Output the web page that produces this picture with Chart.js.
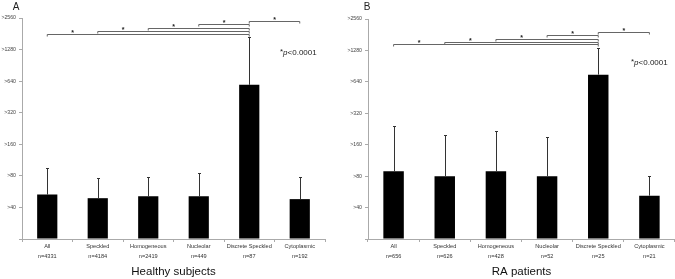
<!DOCTYPE html>
<html>
<head>
<meta charset="utf-8">
<script src="https://cdn.jsdelivr.net/npm/chart.js@4/dist/chart.umd.min.js"></script>
<style>
  html, body { margin: 0; padding: 0; background: #fff; }
  #wrap { position: relative; width: 675px; height: 279px; }
  .panel { position: absolute; top: 0; height: 279px; }
</style>
</head>
<body>
<div id="wrap">
  <div class="panel" style="left:0;width:335px"><canvas id="chartA"></canvas></div>
  <div class="panel" style="left:335px;width:340px"><canvas id="chartB"></canvas></div>
</div>
<script>
// titers
const categories = ['All', 'Speckled', 'Homogeneous', 'Nucleolar', 'Discrete Speckled', 'Cytoplasmic']
const healthyN = ['n=4331', 'n=4184', 'n=2419', 'n=449', 'n=87', 'n=192']
const raN = ['n=656', 'n=626', 'n=428', 'n=52', 'n=25', 'n=21']

const healthyMeans = [53, 49, 51, 51, 590, 48]
const healthyUpper = [95, 76, 78, 86, 1670, 78]
const raMeans = [89, 80, 89, 80, 750, 52]
const raUpper = [240, 200, 215, 190, 1350, 80]

// significance brackets: each group vs Discrete Speckled (index 4), height as titer
const bracketFrom = [0, 1, 2, 3, 5]
const bracketTo = 4
const healthyBracketTiter = [1800, 1930, 2050, 2250, 2410]
const raBracketTiter = [1460, 1540, 1650, 1810, 1940]

const baseTiter = 20
const yTickLabels = ['', '>40', '>80', '>160', '>320', '>640', '>1280', '>2560']

const lvl = v => Math.log2(v / baseTiter)
const FONT = '"Liberation Sans", Arial, sans-serif'

const overlay = {
    id: 'overlay',
    afterDatasetsDraw(chart, args, opts) {
        const { ctx, scales: { x, y } } = chart
        ctx.save()
        // error bars (upper only)
        ctx.strokeStyle = '#333'
        ctx.lineWidth = 1
        opts.upper.forEach((u, i) => {
            const px = Math.round(x.getPixelForValue(i)) + 0.5
            const y0 = y.getPixelForValue(lvl(opts.means[i]))
            const y1 = Math.round(y.getPixelForValue(lvl(u))) + 0.5
            ctx.beginPath()
            ctx.moveTo(px, y0)
            ctx.lineTo(px, y1)
            ctx.moveTo(px - 1.5, y1)
            ctx.lineTo(px + 1.5, y1)
            ctx.stroke()
        })
        // brackets, star sits over the first gap of each bracket
        ctx.strokeStyle = '#666'
        ctx.fillStyle = '#222'
        ctx.font = 'bold 7px ' + FONT
        ctx.textAlign = 'center'
        ctx.textBaseline = 'alphabetic'
        bracketFrom.forEach((from, k) => {
            const xa = x.getPixelForValue(from)
            const xb = x.getPixelForValue(bracketTo)
            const next = from < bracketTo ? from + 1 : from - 1
            const xs = (xa + x.getPixelForValue(next)) / 2
            const yy = Math.round(y.getPixelForValue(lvl(opts.brackets[k]))) + 0.5
            ctx.beginPath()
            ctx.moveTo(xa, yy + 2)
            ctx.lineTo(xa, yy)
            ctx.lineTo(xb, yy)
            ctx.lineTo(xb, yy + 2)
            ctx.stroke()
            ctx.fillText('*', xs, yy + 0.5)
        })
        // panel letter
        ctx.fillStyle = '#222'
        ctx.font = '10px ' + FONT
        ctx.textBaseline = 'middle'
        ctx.fillText(opts.letter, opts.letterX, 7)
        // p value
        ctx.font = '8px ' + FONT
        ctx.textAlign = 'left'
        const pText = '*'
        ctx.fillText(pText, opts.pX, opts.pY - 1)
        let cx = opts.pX + ctx.measureText(pText).width
        ctx.font = 'italic 8px ' + FONT
        ctx.fillText('p', cx, opts.pY)
        cx += ctx.measureText('p').width
        ctx.font = '8px ' + FONT
        ctx.fillText('<0.0001', cx, opts.pY)
        ctx.restore()
    }
}

function makeChart(id, means, upper, nLabels, brackets, title, yWidth, rightPad, topPad, extra) {
    const labels = categories.map((c, i) => [c, nLabels[i]])
    return new Chart(document.getElementById(id), {
        type: 'bar',
        data: {
            labels,
            datasets: [{
                data: means.map(lvl),
                backgroundColor: '#000',
                borderWidth: 0,
                barPercentage: 0.4,
                categoryPercentage: 1
            }]
        },
        options: {
            responsive: true,
            maintainAspectRatio: false,
            animation: false,
            layout: { padding: { top: topPad, right: rightPad, left: 0, bottom: 0 } },
            plugins: {
                legend: { display: false },
                tooltip: { enabled: false },
                overlay: Object.assign({ means, upper, brackets }, extra)
            },
            scales: {
                x: {
                    afterFit(scale) { scale.height = 40 },
                    border: { color: '#aaa' },
                    grid: { display: true, drawOnChartArea: false, tickLength: 3, color: '#aaa', offset: true },
                    ticks: {
                        color: '#333',
                        padding: -1,
                        font: { family: FONT, size: 5.6, lineHeight: '10px' },
                        maxRotation: 0,
                        autoSkip: false
                    },
                    title: {
                        display: true,
                        text: title,
                        color: '#111',
                        font: { family: FONT, size: 11.5 },
                        padding: { top: 0, bottom: 0 }
                    }
                },
                y: {
                    min: 0,
                    max: 7,
                    afterFit(scale) { scale.width = yWidth },
                    border: { color: '#aaa' },
                    grid: { display: true, drawOnChartArea: false, tickLength: 3, color: '#aaa' },
                    ticks: {
                        stepSize: 1,
                        padding: 3,
                        color: '#444',
                        font: { family: FONT, size: 5.2 },
                        callback: v => yTickLabels[v]
                    }
                }
            }
        },
        plugins: [overlay]
    })
}

makeChart('chartA', healthyMeans, healthyUpper, healthyN, healthyBracketTiter,
    'Healthy subjects', 22, 10, 18, { letter: 'A', letterX: 16, pX: 280, pY: 53 })
makeChart('chartB', raMeans, raUpper, raN, raBracketTiter,
    'RA patients', 33, 0, 19, { letter: 'B', letterX: 32, pX: 296, pY: 63 })
</script>
</body>
</html>
